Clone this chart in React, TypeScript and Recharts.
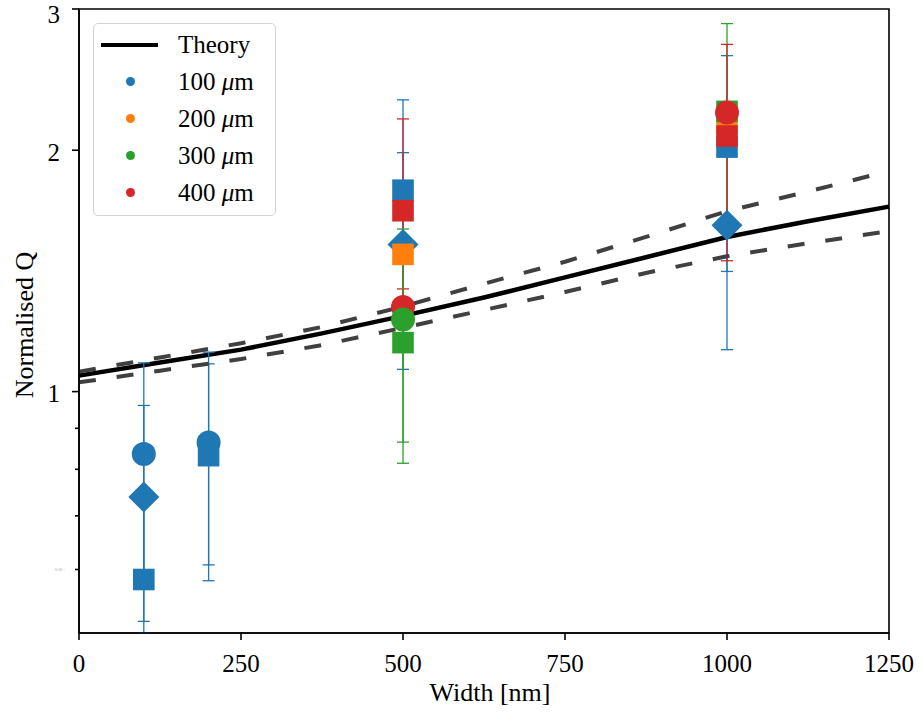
import React from "react";
import {
  ComposedChart,
  Line,
  Scatter,
  XAxis,
  YAxis,
  ErrorBar,
  ReferenceArea,
} from "recharts";

const FONT = '"Liberation Serif", "DejaVu Serif", serif';

// measured widths (nm)
const widthsNm = [100, 200, 500, 1000];

// normalised Q and error per fibre diameter / marker (null = no point)
// an error given as [low, high] is asymmetric
const q100Circle = [0.836, 0.864, null, null];
const e100Circle = [0.25, 0.256, null, null];
const q100Diamond = [0.739, null, 1.526, 1.612];
const e100Diamond = [0.222, null, 0.46, 0.484];
const q100Square = [0.583, 0.832, 1.783, 2.018];
const e100Square: any[] = [[0.083, 0.15], 0.251, 0.528, 0.606];
const q200Square = [null, null, 1.483, 2.16];
const e200Square = [null, null, 0.04, 0.05];
const q300Circle = [null, null, 1.23, null];
const e300Circle = [null, null, 0.365, null];
const q300Square = [null, null, 1.151, 2.236];
const e300Square = [null, null, 0.337, 0.641];
const q400Circle = [null, null, 1.275, 2.228];
const e400Circle = [null, null, 0.068, 0.05];
const q400Square = [null, null, 1.681, 2.083];
const e400Square = [null, null, 0.507, 0.627];

// theory curve and its bounds
const theoryWidth = [0, 125, 250, 375, 500, 625, 750, 875, 1000, 1125, 1250];
const theoryQ = [1.047, 1.087, 1.128, 1.182, 1.243, 1.31, 1.388, 1.471, 1.559, 1.631, 1.701];
const theoryUpper = [1.059, 1.103, 1.149, 1.204, 1.277, 1.363, 1.452, 1.559, 1.679, 1.776, 1.884];
const theoryLower = [1.027, 1.062, 1.098, 1.143, 1.201, 1.264, 1.331, 1.406, 1.475, 1.531, 1.585];

const xTicks = [0, 250, 500, 750, 1000, 1250];
const yTicks = [0.6, 0.7, 0.8, 0.9, 1, 2, 3];
const yMajor = [1, 2, 3];

const legendItems = [
  { label: "100", color: "#1f77b4" },
  { label: "200", color: "#ff7f0e" },
  { label: "300", color: "#2ca02c" },
  { label: "400", color: "#d62728" },
];

const BLUE = "#1f77b4";
const ORANGE = "#ff7f0e";
const GREEN = "#2ca02c";
const RED = "#d62728";

function points(q: (number | null)[], e: any[]) {
  return widthsNm
    .map((w, i) => ({ w, q: q[i], err: e[i] }))
    .filter((p) => p.q !== null);
}

function curve(q: number[]) {
  return theoryWidth.map((w, i) => ({ w, q: q[i] }));
}

const circleShape = (p: any) => <circle cx={p.cx} cy={p.cy} r={12} fill={p.fill} />;
const squareShape = (p: any) => (
  <rect x={p.cx - 10.8} y={p.cy - 10.8} width={21.6} height={21.6} fill={p.fill} />
);
const diamondShape = (p: any) => (
  <path
    d={`M${p.cx},${p.cy - 15.5}L${p.cx + 15.5},${p.cy}L${p.cx},${p.cy + 15.5}L${p.cx - 15.5},${p.cy}Z`}
    fill={p.fill}
  />
);

function YTick(props: any) {
  const { x, y, payload } = props;
  const v = payload.value;
  const major = yMajor.includes(v);
  const axisX = x + 12 + 7;
  return (
    <g>
      <line x1={axisX - (major ? 7 : 4)} x2={axisX} y1={y} y2={y} stroke="#000" strokeWidth={1.6} />
      {major && (
        <text
          x={x}
          y={y}
          dy={v === 3 ? "0.54em" : "0.42em"}
          textAnchor="end"
          fontFamily={FONT}
          fontSize={25}
          fill="#000"
        >
          {v}
        </text>
      )}
      {v === 0.6 && (
        <text x={axisX - 14} y={y} dy="0.35em" textAnchor="end" fontFamily={FONT} fontSize={3.5} fill="#999">
          6×10⁻¹
        </text>
      )}
    </g>
  );
}

function series(q: (number | null)[], e: any[], color: string, shape: any) {
  return (
    <Scatter data={points(q, e)} fill={color} shape={shape} isAnimationActive={false}>
      <ErrorBar dataKey="err" direction="y" width={6} stroke={color} strokeWidth={1.3} />
    </Scatter>
  );
}

export default function App() {
  return (
    <div style={{ position: "absolute", left: 0, top: 0, width: 923, height: 718, background: "#fff" }}>
      <ComposedChart width={923} height={718} margin={{ top: 9, right: 34, bottom: 0, left: 0 }}>
        <XAxis
          dataKey="w"
          type="number"
          domain={[0, 1250]}
          ticks={xTicks}
          interval={0}
          height={85}
          tickSize={7}
          tickMargin={14}
          axisLine={{ stroke: "#000", strokeWidth: 1.6 }}
          tickLine={{ stroke: "#000", strokeWidth: 1.6 }}
          tick={{ fill: "#000", fontSize: 25, fontFamily: FONT }}
          label={{
            content: (p: any) => (
              <text
                x={p.viewBox.x + p.viewBox.width / 2 + 6}
                y={p.viewBox.y + 68}
                textAnchor="middle"
                fontFamily={FONT}
                fontSize={26}
                fill="#000"
              >
                Width [nm]
              </text>
            ),
          }}
        />
        <YAxis
          dataKey="q"
          type="number"
          scale="log"
          domain={[0.5, 3]}
          allowDataOverflow
          ticks={yTicks}
          interval={0}
          width={79}
          tickSize={7}
          tickMargin={12}
          tickLine={false}
          axisLine={{ stroke: "#000", strokeWidth: 1.6 }}
          tick={<YTick />}
          label={{
            content: () => (
              <text
                x={33}
                y={325}
                transform="rotate(-90, 33, 325)"
                textAnchor="middle"
                fontFamily={FONT}
                fontSize={26}
                fill="#000"
              >
                Normalised Q
              </text>
            ),
          }}
        />
        <Line
          data={curve(theoryQ)}
          dataKey="q"
          stroke="#000"
          strokeWidth={4.5}
          dot={false}
          activeDot={false}
          isAnimationActive={false}
        />
        {series(q100Diamond, e100Diamond, BLUE, diamondShape)}
        {series(q100Square, e100Square, BLUE, squareShape)}
        {series(q200Square, e200Square, ORANGE, squareShape)}
        {series(q300Square, e300Square, GREEN, squareShape)}
        {series(q400Square, e400Square, RED, squareShape)}
        {series(q100Circle, e100Circle, BLUE, circleShape)}
        {series(q400Circle, e400Circle, RED, circleShape)}
        {series(q300Circle, e300Circle, GREEN, circleShape)}
        <Line
          data={curve(theoryUpper)}
          dataKey="q"
          stroke="#404040"
          strokeWidth={4}
          strokeDasharray="17 21"
          dot={false}
          activeDot={false}
          isAnimationActive={false}
        />
        <Line
          data={curve(theoryLower)}
          dataKey="q"
          stroke="#404040"
          strokeWidth={4}
          strokeDasharray="17 21"
          dot={false}
          activeDot={false}
          isAnimationActive={false}
        />
        <ReferenceArea
          x1={0}
          x2={1250}
          y1={0.5}
          y2={3}
          fill="none"
          stroke="#000"
          strokeWidth={1.6}
          ifOverflow="visible"
        />
      </ComposedChart>
      <div
        style={{
          position: "absolute",
          left: 93,
          top: 23,
          width: 183,
          height: 193,
          boxSizing: "border-box",
          border: "1.5px solid #d3d3d3",
          borderRadius: 5,
          background: "rgba(255,255,255,0.8)",
          fontFamily: FONT,
          fontSize: 25,
          color: "#000",
        }}
      >
        <div style={{ position: "absolute", top: 2, left: 0, height: 37, width: "100%" }}>
          <div style={{ position: "absolute", left: 7, top: 17, width: 57, height: 4, background: "#000" }} />
          <div style={{ position: "absolute", left: 84, top: 0, lineHeight: "37px" }}>Theory</div>
        </div>
        {legendItems.map((it, i) => (
          <div key={it.label} style={{ position: "absolute", top: 39 + i * 37, left: 0, height: 37, width: "100%" }}>
            <div
              style={{
                position: "absolute",
                left: 32,
                top: 14,
                width: 9,
                height: 9,
                borderRadius: "50%",
                background: it.color,
              }}
            />
            <div style={{ position: "absolute", left: 84, top: 0, lineHeight: "37px", whiteSpace: "nowrap" }}>
              {it.label} <span style={{ fontStyle: "italic" }}>μ</span>m
            </div>
          </div>
        ))}
      </div>
    </div>
  );
}
